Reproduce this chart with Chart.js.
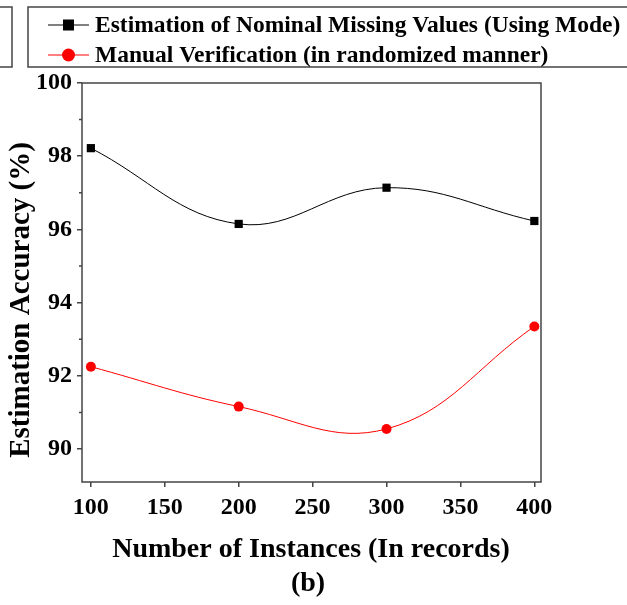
<!DOCTYPE html>
<html>
<head>
<meta charset="utf-8">
<script src="https://cdn.jsdelivr.net/npm/chart.js@4/dist/chart.umd.min.js"></script>
<style>
  html, body { margin: 0; padding: 0; background: #fff; }
  #wrap { width: 627px; height: 605px; position: relative; }
</style>
</head>
<body>
<div id="wrap"><canvas id="chart" width="627" height="605"></canvas></div>
<script>
// ── Data ──────────────────────────────────────────────────────────────
const instances   = [100, 200, 300, 400];
const modeValues  = [98.22, 96.15, 97.14, 96.23];
const manualValues = [92.25, 91.16, 90.55, 93.35];
const xTicks = [100, 150, 200, 250, 300, 350, 400];
const yTicks = [90, 92, 94, 96, 98, 100];
const yMinor = [89, 91, 93, 95, 97, 99];
const seriesLabels = [
  'Estimation of Nominal Missing Values (Using Mode)',
  'Manual Verification (in randomized manner)',
];

const FONT = '"Liberation Serif", "Times New Roman", serif';
const AXIS = '#444';

// ── Frame, minor ticks, titles, legend ───────────────────────────────
const decor = {
  id: 'decor',
  afterDraw(chart) {
    const { ctx, chartArea: a, scales } = chart;
    ctx.save();
    // plot frame
    ctx.strokeStyle = AXIS;
    ctx.lineWidth = 1.5;
    ctx.strokeRect(a.left, a.top, a.right - a.left, a.bottom - a.top);
    // minor y ticks
    ctx.beginPath();
    yMinor.forEach(v => {
      const y = scales.y.getPixelForValue(v);
      if (y < a.top || y > a.bottom) return;
      ctx.moveTo(a.left - 3, y);
      ctx.lineTo(a.left, y);
    });
    ctx.stroke();

    // axis titles
    ctx.fillStyle = '#000';
    ctx.textAlign = 'center';
    ctx.textBaseline = 'middle';
    ctx.font = 'bold 28px ' + FONT;
    ctx.fillText('Number of Instances (In records)', 311, 550);
    ctx.fillText('(b)', 308, 584);
    ctx.save();
    ctx.translate(22, 300);
    ctx.rotate(-Math.PI / 2);
    ctx.font = 'bold 29px ' + FONT;
    ctx.fillText('Estimation Accuracy (%)', 0, 0);
    ctx.restore();

    // legend boxes
    ctx.strokeStyle = AXIS;
    ctx.lineWidth = 1.5;
    ctx.strokeRect(-20, 7, 32, 60);
    ctx.strokeRect(28, 7, 640, 60);
    ctx.font = 'bold 23.5px ' + FONT;
    ctx.textAlign = 'left';
    chart.data.datasets.forEach((ds, i) => {
      const y = 25 + i * 30;
      ctx.strokeStyle = ds.borderColor;
      ctx.lineWidth = 1;
      ctx.beginPath();
      ctx.moveTo(48, y);
      ctx.lineTo(89, y);
      ctx.stroke();
      ctx.fillStyle = ds.pointBackgroundColor;
      if (ds.pointStyle === 'rect') {
        ctx.fillRect(63, y - 5.5, 11, 11);
      } else {
        ctx.beginPath();
        ctx.arc(68.5, y, 6.5, 0, Math.PI * 2);
        ctx.fill();
      }
      ctx.fillStyle = '#000';
      ctx.fillText(seriesLabels[i], 95, y + 1);
    });
    ctx.restore();
  },
};

new Chart(document.getElementById('chart'), {
  type: 'line',
  data: {
    datasets: [
      {
        label: seriesLabels[0],
        data: instances.map((x, i) => ({ x, y: modeValues[i] })),
        borderColor: '#000',
        borderWidth: 1,
        pointStyle: 'rect',
        pointRadius: 5.8,
        pointBackgroundColor: '#000',
        pointBorderColor: '#000',
        pointBorderWidth: 0,
        tension: 0.4,
      },
      {
        label: seriesLabels[1],
        data: instances.map((x, i) => ({ x, y: manualValues[i] })),
        borderColor: '#ff0000',
        borderWidth: 1,
        pointStyle: 'circle',
        pointRadius: 5,
        pointBackgroundColor: '#ff0000',
        pointBorderColor: '#ff0000',
        pointBorderWidth: 0,
        tension: 0.4,
      },
    ],
  },
  options: {
    responsive: false,
    animation: false,
    clip: false,
    layout: { padding: { left: 0, top: 83, right: 86, bottom: 78 } },
    plugins: { legend: { display: false }, tooltip: { enabled: false } },
    scales: {
      x: {
        type: 'linear',
        min: 94,
        max: 404.5,
        afterBuildTicks: s => { s.ticks = xTicks.map(v => ({ value: v })); },
        afterFit: s => { s.height = 45; },
        border: { display: false },
        grid: { drawOnChartArea: false, tickLength: 5, color: AXIS, lineWidth: 1.5 },
        ticks: { color: '#000', padding: 6, maxRotation: 0, font: { family: FONT, size: 24, weight: 'bold' } },
      },
      y: {
        type: 'linear',
        min: 89.1,
        max: 100,
        afterBuildTicks: s => { s.ticks = yTicks.map(v => ({ value: v })); },
        afterFit: s => { s.width = 82; },
        border: { display: false },
        grid: { drawOnChartArea: false, tickLength: 5, color: AXIS, lineWidth: 1.5 },
        ticks: { color: '#000', padding: 5, font: { family: FONT, size: 24, weight: 'bold' } },
      },
    },
  },
  plugins: [decor],
});
</script>
</body>
</html>
